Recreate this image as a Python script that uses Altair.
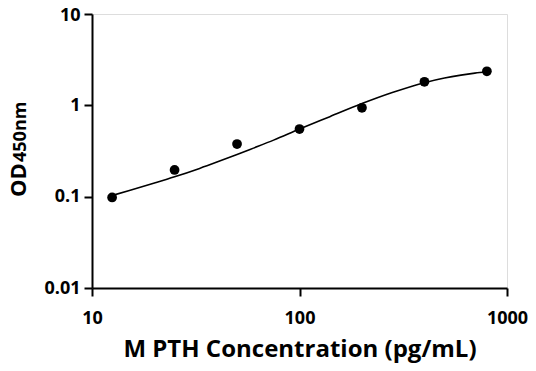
import altair as alt
import pandas as pd

# Measured standards
conc = [12.5, 25, 50, 100, 200, 400, 800]
od = [0.098, 0.196, 0.377, 0.55, 0.94, 1.81, 2.36]

# Fitted curve
curve_x = [12.5, 15, 20, 25, 33, 40, 50, 60, 75, 100, 140, 200, 280, 400, 500, 600, 700, 800]
curve_y = [0.103, 0.116, 0.141, 0.165, 0.204, 0.239, 0.289, 0.340, 0.416, 0.55, 0.752, 1.045, 1.38, 1.77, 1.99, 2.14, 2.25, 2.33]

x_ticks = [10, 100, 1000]
y_ticks = [0.01, 0.1, 1, 10]

pts = pd.DataFrame({"x": conc, "y": od})
crv = pd.DataFrame({"x": curve_x, "y": curve_y})

FONT = "Open Sans"

xs = alt.Scale(type="log", domain=[10, 1000], nice=False)
ys = alt.Scale(type="log", domain=[0.01, 10], nice=False)

xaxis = alt.Axis(values=x_ticks, format="~g", grid=False, title="M PTH Concentration (pg/mL)",
                 domainColor="black", domainWidth=2, tickColor="black", tickWidth=2, tickSize=8,
                 labelFont=FONT, labelFontWeight="bold", labelFontSize=18, labelColor="black",
                 labelPadding=13, titleFont=FONT, titleFontWeight="bold", titleFontSize=24,
                 titleColor="black", titlePadding=10, labelFlush=False)
yaxis = alt.Axis(values=y_ticks, format="~g", grid=False, title=None,
                 domainColor="black", domainWidth=2, tickColor="black", tickWidth=2, tickSize=8,
                 labelFont=FONT, labelFontWeight="bold", labelFontSize=18, labelColor="black",
                 labelPadding=4, labelFlush=False,
                 labelOffset={"condition": {"test": "datum.value == 10", "value": 1}, "value": 0})

line = alt.Chart(crv).mark_line(color="black", strokeWidth=1.6, interpolate="monotone").encode(
    x=alt.X("x:Q", scale=xs, axis=xaxis),
    y=alt.Y("y:Q", scale=ys, axis=yaxis),
)
dots = alt.Chart(pts).mark_circle(color="black", opacity=1, size=95).encode(
    x=alt.X("x:Q", scale=xs),
    y=alt.Y("y:Q", scale=ys),
)

od_txt = alt.Chart(pd.DataFrame({"t": ["OD"]})).mark_text(
    font=FONT, fontWeight="bold", fontSize=22, angle=270, align="left", baseline="alphabetic", color="black"
).encode(text="t:N", x=alt.value(-66), y=alt.value(183))
sub_txt = alt.Chart(pd.DataFrame({"t": ["450nm"]})).mark_text(
    font=FONT, fontWeight="bold", fontSize=18, angle=270, align="left", baseline="alphabetic", color="black"
).encode(text="t:N", x=alt.value(-66), y=alt.value(148))

chart = alt.layer(line, dots, od_txt, sub_txt).properties(
    width=415, height=274,
    autosize=alt.AutoSizeParams(type="none"),
    padding={"left": 84, "top": 6, "right": 21, "bottom": 75},
).configure_view(stroke=None).configure(background="white")

chart.save("out.html", embed_options={"renderer": "svg", "actions": False})
